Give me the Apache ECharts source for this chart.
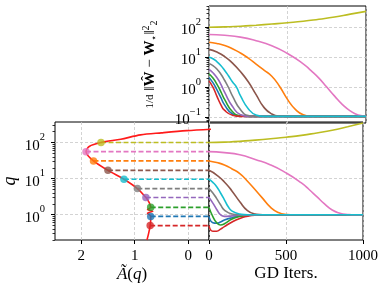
<!DOCTYPE html>
<html>
<head>
<meta charset="utf-8">
<script src="https://cdn.jsdelivr.net/npm/echarts@6/dist/echarts.min.js"></script>
<style>html,body{margin:0;padding:0;background:#fff}#c{width:381px;height:286px}</style>
</head>
<body>
<div id="c"></div>
<script>
// ---------------- data ----------------
const curveNames = ['blue','orange','green','red','purple','brown','pink','gray','olive','cyan'];
const curveColors = ['#1f77b4','#ff7f0e','#2ca02c','#d62728','#9467bd','#8c564b','#e377c2','#7f7f7f','#bcbd22','#17becf'];

// starting q of each run and A~(q) at that q (markers in left panel)
const qStart = [0.9, 31, 1.6, 0.5, 3.0, 17, 56, 5.3, 100, 9.6];
const aAtStart = [0.70, 1.77, 0.70, 0.71, 0.79, 1.50, 1.91, 0.95, 1.63, 1.20];

// red A~(q) curve
const curveQ = [0.2, 0.3, 0.5, 0.75, 0.9, 1.1, 1.25, 1.4, 1.6, 2.2, 3.0, 5.3, 9.6, 17, 31, 56, 78, 100, 124, 163, 186, 214, 238];
const curveA = [0.77, 0.74, 0.71, 0.70, 0.70, 0.76, 0.66, 0.76, 0.70, 0.73, 0.79, 0.95, 1.20, 1.50, 1.77, 1.91, 1.85, 1.63, 1.26, 0.89, 0.50, 0.03, -0.50];

// top-right: (1/d)||W^ - W*||^2 vs GD iterations
const errBlueIt   = [0, 25, 50, 75, 100, 150, 200, 250, 1000];
const errBlue     = [2.1, 1.41, 0.83, 0.45, 0.25, 0.126, 0.107, 0.105, 0.105];
const errOrangeIt = [0, 50, 100, 150, 200, 250, 300, 350, 400, 450, 500, 550, 600, 650, 700, 1000];
const errOrange   = [31.6, 28.8, 24.5, 19.1, 13.8, 9.3, 5.9, 3.7, 2.3, 1.05, 0.39, 0.18, 0.12, 0.107, 0.105, 0.105];
const errGreenIt  = [0, 25, 50, 75, 100, 150, 200, 250, 1000];
const errGreen    = [2.75, 2.0, 1.26, 0.71, 0.38, 0.15, 0.11, 0.105, 0.105];
const errRedIt    = [0, 25, 50, 75, 100, 150, 200, 1000];
const errRed      = [1.6, 1.0, 0.5, 0.26, 0.166, 0.115, 0.105, 0.105];
const errPurpleIt = [0, 25, 50, 75, 100, 150, 200, 250, 1000];
const errPurple   = [3.9, 3.0, 2.1, 1.26, 0.66, 0.224, 0.12, 0.105, 0.105];
const errBrownIt  = [0, 50, 100, 150, 200, 250, 300, 350, 400, 450, 500, 1000];
const errBrown    = [18.2, 14.8, 10.5, 6.3, 3.3, 1.5, 0.56, 0.21, 0.126, 0.107, 0.105, 0.105];
const errPinkIt   = [0, 100, 200, 300, 400, 500, 600, 650, 700, 750, 800, 850, 900, 950, 1000];
const errPink     = [57.5, 53.7, 46.8, 35.5, 24, 13.2, 6.0, 3.55, 2.0, 1.0, 0.5, 0.26, 0.16, 0.117, 0.107];
const errGrayIt   = [0, 25, 50, 75, 100, 125, 150, 200, 250, 300, 1000];
const errGray     = [6.2, 5.25, 4.0, 2.75, 1.66, 0.95, 0.5, 0.178, 0.112, 0.105, 0.105];
const errOliveIt  = [0, 100, 200, 300, 400, 500, 600, 700, 800, 900, 1000];
const errOlive    = [100, 103, 108, 117, 128, 141, 158, 185, 220, 275, 340];
const errCyanIt   = [0, 25, 50, 75, 100, 125, 150, 175, 200, 250, 300, 350, 1000];
const errCyan     = [10, 8.9, 7.1, 5.25, 3.6, 2.34, 1.48, 1.0, 0.52, 0.19, 0.117, 0.105, 0.105];

// bottom-right: q vs GD iterations
const qBlueIt   = [0, 25, 50, 75, 100, 150, 200, 250, 300, 1000];
const qBlue     = [0.9, 0.6, 0.58, 0.63, 0.71, 0.83, 0.93, 0.98, 1, 1];
const qOrangeIt = [0, 50, 100, 150, 200, 250, 300, 350, 400, 450, 500, 550, 1000];
const qOrange   = [31, 28, 24, 18.6, 13.8, 8.5, 4.9, 2.8, 1.6, 1.15, 1.02, 1, 1];
const qGreenIt  = [0, 25, 50, 75, 100, 150, 200, 250, 300, 1000];
const qGreen    = [1.6, 0.89, 0.6, 0.52, 0.56, 0.76, 0.89, 0.95, 1, 1];
const qRedIt    = [0, 25, 50, 75, 100, 150, 200, 250, 300, 350, 1000];
const qRed      = [0.5, 0.35, 0.35, 0.4, 0.47, 0.63, 0.79, 0.91, 0.98, 1, 1];
const qPurpleIt = [0, 25, 50, 75, 100, 150, 200, 250, 1000];
const qPurple   = [3.0, 2.1, 1.4, 1.0, 0.9, 0.93, 0.98, 1, 1];
const qBrownIt  = [0, 50, 100, 150, 200, 250, 300, 350, 1000];
const qBrown    = [17, 12.6, 8.1, 4.5, 2.3, 1.3, 1.05, 1, 1];
const qPinkIt   = [0, 100, 200, 300, 400, 500, 600, 650, 700, 750, 800, 850, 900, 950, 1000];
const qPink     = [56, 52.5, 45.7, 33.9, 24, 14.5, 7.6, 5.0, 3.16, 2.0, 1.35, 1.1, 1.02, 1, 1];
const qGrayIt   = [0, 25, 50, 75, 100, 150, 200, 1000];
const qGray     = [5.3, 4.0, 2.8, 1.9, 1.35, 1.05, 1, 1];
const qOliveIt  = [0, 100, 200, 300, 400, 500, 600, 700, 800, 900, 1000];
const qOlive    = [100, 103, 108, 117, 128, 141, 158, 185, 220, 275, 347];
const qCyanIt   = [0, 25, 50, 75, 100, 125, 150, 200, 250, 1000];
const qCyan     = [9.6, 7.9, 6.0, 4.0, 2.6, 1.66, 1.26, 1.05, 1, 1];

// ticks
const iterTicks = [0, 500, 1000];
const aTicks = [0, 1, 2];
const errDecades = [-1, 0, 1, 2];
const qDecades = [0, 1, 2];

// ---------------- build ----------------
const errIts = [errBlueIt, errOrangeIt, errGreenIt, errRedIt, errPurpleIt, errBrownIt, errPinkIt, errGrayIt, errOliveIt, errCyanIt];
const errVals = [errBlue, errOrange, errGreen, errRed, errPurple, errBrown, errPink, errGray, errOlive, errCyan];
const qIts = [qBlueIt, qOrangeIt, qGreenIt, qRedIt, qPurpleIt, qBrownIt, qPinkIt, qGrayIt, qOliveIt, qCyanIt];
const qVals = [qBlue, qOrange, qGreen, qRed, qPurple, qBrown, qPink, qGray, qOlive, qCyan];

const L = Math.log10;
const pairs = (xs, ys) => xs.map((x, i) => [x, L(ys[i])]);
function minorTicks(lo, hi) {
  const out = [];
  for (let e = Math.floor(lo) - 1; e <= Math.ceil(hi); e++) {
    for (let m = 2; m <= 9; m++) {
      const v = e + L(m);
      if (v >= lo && v <= hi) out.push(v);
    }
  }
  return out;
}

const FONT = 'Liberation Serif';
const errMin = -1.2, errMax = 2.71;
const qMin = -0.70, qMax = 2.57;
const aMin = -0.39, aMax = 2.49;

const gridLine = { show: true, lineStyle: { color: '#c8c8c8', width: 0.8, type: [3, 2] } };
const noLine = { show: false, onZero: false };
const supRich = {
  b: { fontSize: 15, lineHeight: 21, fontFamily: FONT, color: '#000', verticalAlign: 'bottom' },
  s: { fontSize: 10.5, lineHeight: 12, fontFamily: FONT, color: '#000', verticalAlign: 'top' }
};
const powLabel = v => '{b|10}{s|' + (v < 0 ? '\u2212' : '') + Math.abs(Math.round(v)) + '}';
const plainLabel = v => String(Math.round(v));

const series = [];
const SM = 0.55;
// top-right
curveNames.forEach((n, i) => {
  series.push({ type: 'line', xAxisIndex: 0, yAxisIndex: 0, data: pairs(errIts[i], errVals[i]),
    showSymbol: false, smooth: SM, lineStyle: { width: 1.6, color: curveColors[i] },
    itemStyle: { color: curveColors[i] }, z: 3, silent: true });
});
// bottom-right
curveNames.forEach((n, i) => {
  series.push({ type: 'line', xAxisIndex: 2, yAxisIndex: 4, data: pairs(qIts[i], qVals[i]),
    showSymbol: false, smooth: SM, lineStyle: { width: 1.6, color: curveColors[i] },
    itemStyle: { color: curveColors[i] }, z: 3, silent: true });
});
// bottom-left dashed lines
curveNames.forEach((n, i) => {
  series.push({ type: 'line', xAxisIndex: 1, yAxisIndex: 2,
    data: [[aAtStart[i], L(qStart[i])], [aMin, L(qStart[i])]],
    showSymbol: false, lineStyle: { width: 1.6, color: curveColors[i], type: [5, 2.5] }, z: 3, silent: true });
});
// red curve
series.push({ type: 'line', xAxisIndex: 1, yAxisIndex: 2,
  data: curveA.map((a, i) => [a, L(curveQ[i])]), showSymbol: false, smooth: 0.3,
  lineStyle: { width: 1.6, color: '#ff1a1a' }, z: 4, silent: true });
// markers
series.push({ type: 'scatter', xAxisIndex: 1, yAxisIndex: 2, symbolSize: 7.5,
  data: curveNames.map((n, i) => ({ value: [aAtStart[i], L(qStart[i])], itemStyle: { color: curveColors[i] } })),
  z: 5, silent: true });

const option = {
  animation: false,
  backgroundColor: '#fff',
  grid: [
    { left: 209, top: 6, width: 157, height: 117, show: true, borderColor: '#000', borderWidth: 1, backgroundColor: 'transparent' },
    { left: 52, top: 122, width: 157, height: 118, show: true, borderColor: '#000', borderWidth: 1, backgroundColor: 'transparent' },
    { left: 209, top: 122, width: 157, height: 118, show: true, borderColor: '#000', borderWidth: 1, backgroundColor: 'transparent' }
  ],
  xAxis: [
    { type: 'value', gridIndex: 0, min: 0, max: 1000, interval: 500,
      axisLine: noLine, axisTick: { show: false }, axisLabel: { show: false }, splitLine: gridLine },
    { type: 'value', gridIndex: 1, min: aMin, max: aMax, inverse: true,
      axisLine: noLine,
      axisTick: { show: true, length: 4, customValues: aTicks, lineStyle: { color: '#000', width: 1 } },
      axisLabel: { customValues: aTicks, margin: 9, fontSize: 15, fontFamily: FONT, color: '#000', formatter: plainLabel },
      splitLine: gridLine,
      name: '{i|\u00C3}{n|(}{i|q}{n|)}', nameLocation: 'middle', nameGap: 26,
      nameTextStyle: { rich: { i: { fontSize: 17, fontStyle: 'italic', fontFamily: FONT, color: '#000' }, n: { fontSize: 17, fontFamily: FONT, color: '#000' } } } },
    { type: 'value', gridIndex: 2, min: 0, max: 1000, interval: 500,
      axisLine: noLine,
      axisTick: { show: true, length: 4, lineStyle: { color: '#000', width: 1 } },
      axisLabel: { margin: 9, fontSize: 15, fontFamily: FONT, color: '#000', formatter: plainLabel },
      splitLine: gridLine,
      name: 'GD Iters.', nameLocation: 'middle', nameGap: 22,
      nameTextStyle: { fontSize: 17, fontFamily: FONT, color: '#000' } }
  ],
  yAxis: [
    { type: 'value', gridIndex: 0, min: errMin, max: errMax, position: 'left',
      axisLine: noLine,
      axisTick: { show: true, length: 4, customValues: errDecades, lineStyle: { color: '#000', width: 1 } },
      axisLabel: { customValues: errDecades, margin: 8, formatter: powLabel, rich: supRich },
      splitLine: gridLine,
      name: '{f|1/d}{m| \u2016}{w|\u0174}{m| \u2212 }{w|W}{t|\u22C6}{m|\u2016}{p|2}{t|2}',
      nameLocation: 'middle', nameRotate: 90, nameGap: 50,
      nameTextStyle: { rich: {
        f: { fontSize: 11, fontFamily: FONT, color: '#000' },
        m: { fontSize: 15, fontFamily: FONT, color: '#000', lineHeight: 18 },
        w: { fontSize: 15, fontFamily: FONT, fontWeight: 'bold', color: '#000', lineHeight: 18 },
        p: { fontSize: 10, fontFamily: FONT, color: '#000', verticalAlign: 'top', lineHeight: 10 },
        t: { fontSize: 10, fontFamily: FONT, color: '#000', verticalAlign: 'bottom', lineHeight: 10 }
      } } },
    { type: 'value', gridIndex: 0, min: errMin, max: errMax, position: 'left',
      axisLine: noLine,
      axisTick: { show: true, length: 2.5, customValues: minorTicks(errMin, errMax), lineStyle: { color: '#000', width: 0.8 } },
      axisLabel: { show: false }, splitLine: { show: false } },
    { type: 'value', gridIndex: 1, min: qMin, max: qMax, position: 'left',
      axisLine: noLine,
      axisTick: { show: true, length: 4, customValues: qDecades, lineStyle: { color: '#000', width: 1 } },
      axisLabel: { customValues: qDecades, margin: 10, formatter: powLabel, rich: supRich },
      splitLine: gridLine,
      name: 'q', nameLocation: 'middle', nameRotate: 90, nameGap: 36,
      nameTextStyle: { fontSize: 18, fontStyle: 'italic', fontFamily: FONT, color: '#000' } },
    { type: 'value', gridIndex: 1, min: qMin, max: qMax, position: 'left',
      axisLine: noLine,
      axisTick: { show: true, length: 2.5, customValues: minorTicks(qMin, qMax), lineStyle: { color: '#000', width: 0.8 } },
      axisLabel: { show: false }, splitLine: { show: false } },
    { type: 'value', gridIndex: 2, min: qMin, max: qMax, position: 'left',
      axisLine: noLine,
      axisTick: { show: false, customValues: qDecades },
      axisLabel: { show: false }, splitLine: gridLine }
  ],
  series: series
};

const chart = echarts.init(document.getElementById('c'), null, { renderer: 'canvas' });
chart.setOption(option);
</script>
</body>
</html>
